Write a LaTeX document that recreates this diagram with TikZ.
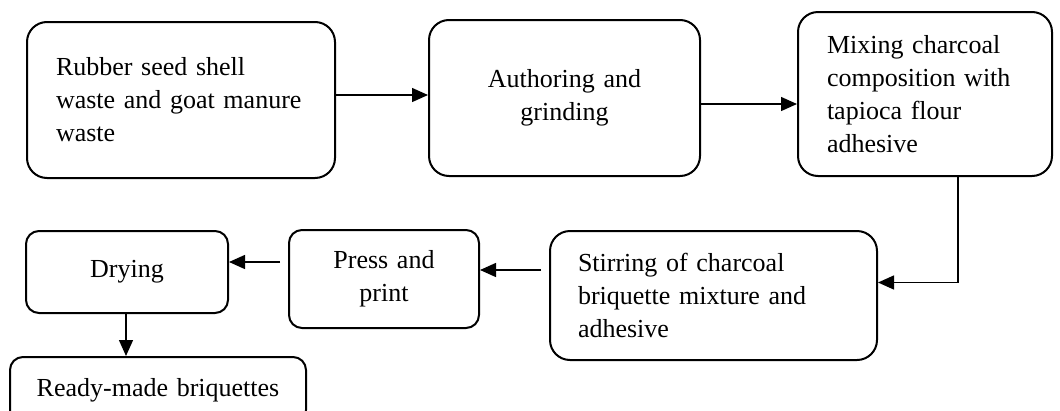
\documentclass[tikz,border=0pt]{standalone}
\usepackage{fontspec}
\setmainfont{Liberation Serif}
\usetikzlibrary{arrows.meta,positioning,calc}

\begin{document}
\begin{tikzpicture}[x=1pt,y=-1pt,
   font=\fontsize{26}{33}\selectfont,
   stage/.style={draw=black,line width=2pt,rounded corners=20pt,inner ysep=0pt},
   small/.style={stage,rounded corners=13pt},
   flow/.style={line width=1.4pt,-{Triangle[length=16pt,width=14pt]}}]
  \useasboundingbox (0,0) rectangle (1060,410);
  \clip (0,0) rectangle (1060,410);
  % top row
  \node[stage,minimum width=308,minimum height=156,text width=250,inner xsep=28,align=left]
     (raw) at (181,100) {Rubber seed shell\\waste and goat manure\\waste};
  \node[stage,minimum width=271,minimum height=156,text width=215,align=center]
     (grind) at (564.5,98) {Authoring and\\grinding};
  \node[stage,minimum width=254,minimum height=164,text width=196,inner xsep=29,align=left]
     (mix) at (925,94) {Mixing charcoal\\composition with\\tapioca flour\\adhesive};
  % bottom row, right to left
  \node[stage,minimum width=327,minimum height=129,text width=271,inner xsep=28,align=left]
     (stir) at (713.5,295.5) {Stirring of charcoal\\briquette mixture and\\adhesive};
  \node[small,minimum width=190,minimum height=98,text width=150,align=center]
     (press) at (384,279) {Press and\\print};
  \node[small,minimum width=202,minimum height=82,text width=160,align=center]
     (dry) at (127,272) {Drying};
  \node[small,minimum width=296,minimum height=66,text width=260,align=center]
     (ready) at (158,390) {Ready-made briquettes};
  % connectors
  \draw[flow] ([yshift=5pt]raw.east) -- ([yshift=5pt]raw.east -| grind.west);
  \draw[flow] ([yshift=-6pt]grind.east) -- ([yshift=-6pt]grind.east -| mix.west);
  \draw[flow] ([xshift=33pt]mix.south) |- ([yshift=13pt]stir.east);
  \draw[flow,shorten <=8pt] ([yshift=9pt]press.east -| stir.west) -- ([yshift=9pt]press.east);
  \draw[flow,shorten <=8pt] ([yshift=10pt]dry.east -| press.west) -- ([yshift=10pt]dry.east);
  \draw[flow] ([xshift=-1pt]dry.south) -- ([xshift=-1pt]dry.south |- ready.north);
\end{tikzpicture}
\end{document}
